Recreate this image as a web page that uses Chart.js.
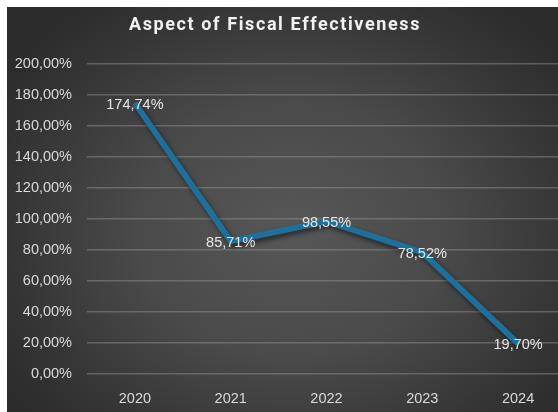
<!DOCTYPE html>
<html>
<head>
<meta charset="utf-8">
<script src="https://cdn.jsdelivr.net/npm/chart.js@4/dist/chart.umd.min.js"></script>
<style>
  html, body { margin: 0; padding: 0; background: #fff; overflow: hidden; }
  #wrap {
    position: absolute; left: 7px; top: 7px;
    width: 570px; height: 405px;
    background: radial-gradient(ellipse 60% 70% at 50% 55%, #575757 0%, #4a4a4a 45%, #363636 80%, #2c2c2c 100%);
  }
</style>
</head>
<body>
<div id="wrap"><canvas id="chart" width="570" height="405"></canvas></div>
<script>
const chartTitle = 'Aspect of Fiscal Effectiveness'
const years = ['2020', '2021', '2022', '2023', '2024']
const effectiveness = [174.74, 85.71, 98.55, 78.52, 19.70]

const labelFont = 'Liberation Sans'

function pct(v) {
  return v.toFixed(2).replace('.', ',') + '%'
}

// title drawn by hand so it can get a bit of letter spacing
const spacedTitle = {
  id: 'spacedTitle',
  afterDraw(chart) {
    const ctx = chart.ctx
    ctx.save()
    ctx.font = 'bold 18px Roboto'
    ctx.letterSpacing = '1.6px'
    ctx.fillStyle = '#f2f2f2'
    ctx.textAlign = 'center'
    ctx.textBaseline = 'alphabetic'
    ctx.fillText(chartTitle, 268, 23)
    ctx.restore()
  }
}

// soft shadow under the line
const lineShadow = {
  id: 'lineShadow',
  beforeDatasetDraw(chart) {
    const ctx = chart.ctx
    ctx.save()
    ctx.shadowColor = 'rgba(0,0,0,0.55)'
    ctx.shadowBlur = 5
    ctx.shadowOffsetX = 2
    ctx.shadowOffsetY = 3
  },
  afterDatasetDraw(chart) {
    chart.ctx.restore()
  }
}

// value labels centred on each point
const valueLabels = {
  id: 'valueLabels',
  afterDatasetsDraw(chart) {
    const ctx = chart.ctx
    const meta = chart.getDatasetMeta(0)
    ctx.save()
    ctx.font = '14.5px "' + labelFont + '"'
    ctx.fillStyle = '#e6e6e6'
    ctx.textAlign = 'center'
    ctx.textBaseline = 'middle'
    meta.data.forEach(function(pt, i) {
      ctx.fillText(pct(effectiveness[i]), pt.x, pt.y + 2)
    })
    ctx.restore()
  }
}

new Chart(document.getElementById('chart'), {
  type: 'line',
  data: {
    labels: years,
    datasets: [{
      data: effectiveness,
      borderColor: '#1e6f99',
      borderWidth: 6,
      pointRadius: 0,
      tension: 0,
      fill: false
    }]
  },
  options: {
    responsive: false,
    animation: false,
    layout: { padding: { top: 57, right: 11, bottom: 0, left: 0 } },
    plugins: {
      legend: { display: false },
      title: { display: false },
      tooltip: { enabled: false }
    },
    scales: {
      x: {
        offset: true,
        afterFit(scale) { scale.height = 38 },
        grid: { display: false, drawTicks: false },
        border: { display: false },
        ticks: { color: '#d9d9d9', font: { family: labelFont, size: 14.5 }, padding: 16, maxRotation: 0 }
      },
      y: {
        min: 0,
        max: 200,
        afterFit(scale) { scale.width = 80 },
        grid: { color: 'rgba(150,150,150,0.45)', lineWidth: 1.5, drawTicks: false },
        border: { display: false },
        ticks: {
          stepSize: 20,
          color: '#d9d9d9',
          font: { family: labelFont, size: 14.5 },
          padding: 15,
          callback: function(v) { return pct(v) }
        }
      }
    }
  },
  plugins: [spacedTitle, lineShadow, valueLabels]
})
</script>
</body>
</html>
